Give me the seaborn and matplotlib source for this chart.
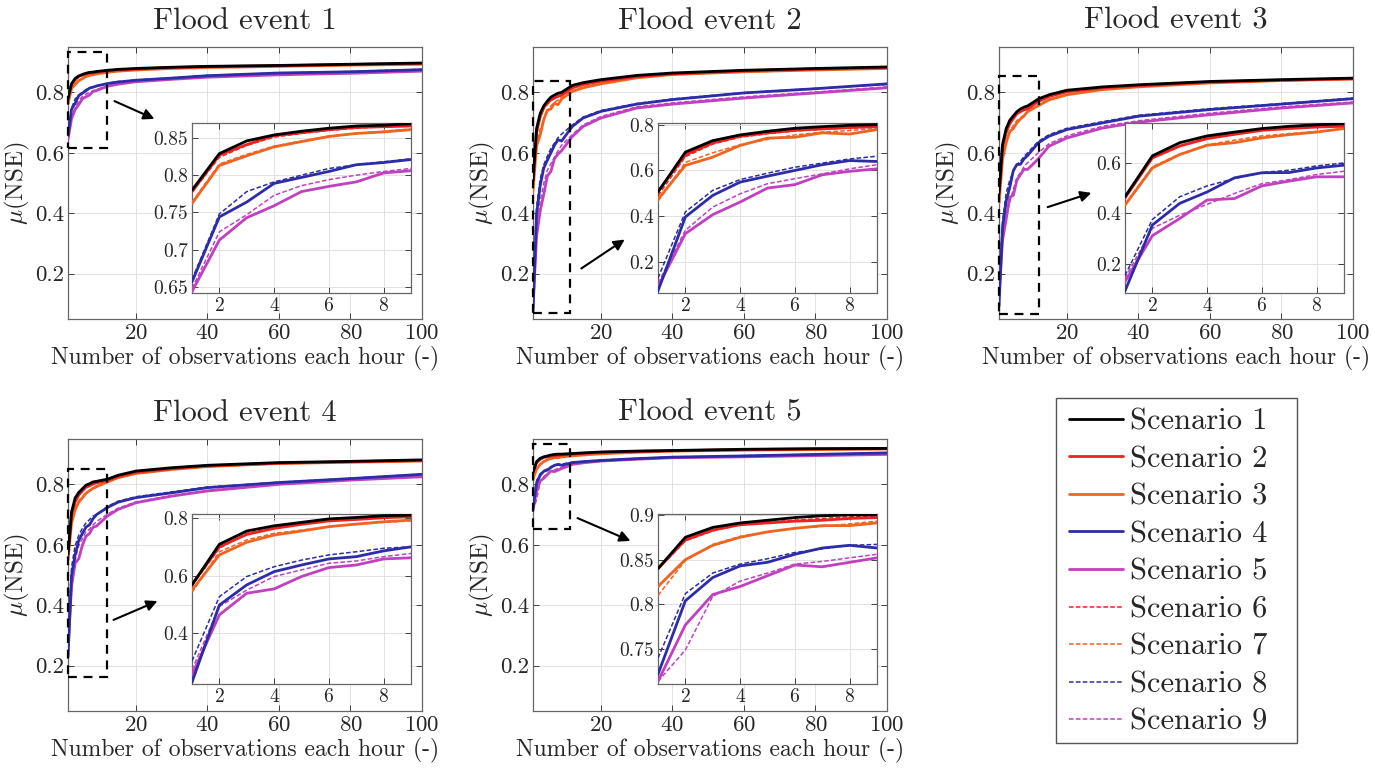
import matplotlib
matplotlib.use("Agg")
import matplotlib.pyplot as plt
import seaborn as sns
import pandas as pd
from matplotlib.patches import Rectangle, FancyArrowPatch
from matplotlib.lines import Line2D
from matplotlib.ticker import FuncFormatter

x_obs = [1, 2, 3, 4, 5, 6, 7, 8, 9, 12, 15, 20, 30, 40, 60, 80, 100]

scenarios = ["Scenario 1", "Scenario 2", "Scenario 3", "Scenario 4", "Scenario 5",
             "Scenario 6", "Scenario 7", "Scenario 8", "Scenario 9"]
colors = ["#000000", "#ee2020", "#f06420", "#2c2ca8", "#c040c0",
          "#ee2020", "#f06420", "#2c2ca8", "#c040c0"]
dashed = [False, False, False, False, False, True, True, True, True]

event_titles = ["Flood event 1", "Flood event 2", "Flood event 3", "Flood event 4", "Flood event 5"]

ev1 = [
    [0.780, 0.829, 0.846, 0.854, 0.859, 0.863, 0.866, 0.867, 0.869, 0.873, 0.876, 0.879, 0.883, 0.886, 0.889, 0.893, 0.897],
    [0.778, 0.827, 0.841, 0.853, 0.857, 0.861, 0.864, 0.865, 0.866, 0.871, 0.874, 0.877, 0.882, 0.885, 0.888, 0.892, 0.896],
    [0.762, 0.813, 0.826, 0.838, 0.845, 0.852, 0.856, 0.858, 0.861, 0.866, 0.870, 0.874, 0.879, 0.882, 0.886, 0.890, 0.893],
    [0.657, 0.744, 0.764, 0.789, 0.797, 0.805, 0.814, 0.817, 0.821, 0.829, 0.834, 0.840, 0.847, 0.855, 0.864, 0.868, 0.875],
    [0.644, 0.713, 0.743, 0.759, 0.778, 0.785, 0.791, 0.803, 0.806, 0.820, 0.827, 0.835, 0.843, 0.850, 0.858, 0.863, 0.870],
    [0.777, 0.824, 0.840, 0.851, 0.856, 0.860, 0.863, 0.865, 0.866, 0.871, 0.874, 0.878, 0.882, 0.885, 0.889, 0.892, 0.896],
    [0.764, 0.815, 0.828, 0.839, 0.846, 0.852, 0.856, 0.859, 0.862, 0.867, 0.871, 0.875, 0.879, 0.883, 0.886, 0.890, 0.894],
    [0.660, 0.748, 0.778, 0.791, 0.800, 0.809, 0.814, 0.818, 0.822, 0.830, 0.836, 0.841, 0.848, 0.856, 0.864, 0.869, 0.876],
    [0.648, 0.724, 0.747, 0.773, 0.786, 0.794, 0.800, 0.805, 0.809, 0.822, 0.829, 0.836, 0.844, 0.851, 0.859, 0.864, 0.871],
]
ev2 = [
    [0.506, 0.680, 0.730, 0.755, 0.771, 0.784, 0.791, 0.797, 0.800, 0.823, 0.832, 0.842, 0.856, 0.864, 0.873, 0.879, 0.884],
    [0.508, 0.668, 0.720, 0.749, 0.764, 0.775, 0.781, 0.787, 0.791, 0.815, 0.826, 0.837, 0.852, 0.861, 0.871, 0.877, 0.882],
    [0.474, 0.622, 0.658, 0.709, 0.741, 0.745, 0.764, 0.759, 0.778, 0.803, 0.815, 0.828, 0.848, 0.859, 0.868, 0.874, 0.879],
    [0.074, 0.397, 0.491, 0.549, 0.575, 0.600, 0.625, 0.643, 0.639, 0.687, 0.715, 0.737, 0.761, 0.776, 0.798, 0.812, 0.828],
    [0.092, 0.324, 0.407, 0.462, 0.523, 0.538, 0.581, 0.596, 0.607, 0.654, 0.687, 0.715, 0.748, 0.761, 0.781, 0.798, 0.815],
    [0.490, 0.660, 0.715, 0.745, 0.760, 0.772, 0.780, 0.785, 0.790, 0.814, 0.825, 0.836, 0.851, 0.860, 0.870, 0.876, 0.881],
    [0.465, 0.635, 0.677, 0.712, 0.735, 0.755, 0.767, 0.774, 0.784, 0.806, 0.818, 0.830, 0.848, 0.858, 0.867, 0.874, 0.879],
    [0.130, 0.419, 0.513, 0.560, 0.588, 0.614, 0.632, 0.650, 0.662, 0.692, 0.718, 0.740, 0.763, 0.778, 0.799, 0.813, 0.826],
    [0.107, 0.339, 0.440, 0.498, 0.542, 0.564, 0.585, 0.607, 0.625, 0.660, 0.692, 0.720, 0.752, 0.765, 0.785, 0.801, 0.818],
]
ev3 = [
    [0.466, 0.628, 0.680, 0.707, 0.722, 0.736, 0.745, 0.751, 0.755, 0.778, 0.792, 0.807, 0.818, 0.825, 0.836, 0.842, 0.847],
    [0.462, 0.620, 0.667, 0.696, 0.713, 0.729, 0.736, 0.742, 0.745, 0.770, 0.786, 0.802, 0.815, 0.822, 0.834, 0.840, 0.845],
    [0.433, 0.580, 0.633, 0.670, 0.680, 0.699, 0.712, 0.722, 0.736, 0.756, 0.775, 0.792, 0.809, 0.818, 0.831, 0.839, 0.844],
    [0.093, 0.354, 0.440, 0.485, 0.541, 0.561, 0.562, 0.580, 0.591, 0.633, 0.655, 0.677, 0.699, 0.721, 0.743, 0.761, 0.779],
    [0.130, 0.312, 0.380, 0.453, 0.459, 0.509, 0.528, 0.545, 0.545, 0.580, 0.622, 0.649, 0.682, 0.701, 0.726, 0.748, 0.765],
    [0.460, 0.618, 0.665, 0.703, 0.716, 0.729, 0.738, 0.745, 0.749, 0.772, 0.788, 0.803, 0.815, 0.823, 0.834, 0.841, 0.845],
    [0.436, 0.585, 0.635, 0.672, 0.690, 0.707, 0.716, 0.725, 0.736, 0.760, 0.778, 0.794, 0.810, 0.819, 0.832, 0.839, 0.844],
    [0.154, 0.376, 0.466, 0.509, 0.538, 0.562, 0.571, 0.588, 0.600, 0.638, 0.660, 0.681, 0.703, 0.724, 0.746, 0.763, 0.781],
    [0.143, 0.341, 0.393, 0.436, 0.479, 0.518, 0.534, 0.554, 0.567, 0.600, 0.630, 0.656, 0.688, 0.706, 0.731, 0.752, 0.768],
]
ev4 = [
    [0.568, 0.709, 0.755, 0.773, 0.785, 0.797, 0.802, 0.808, 0.810, 0.817, 0.830, 0.844, 0.855, 0.863, 0.872, 0.876, 0.881],
    [0.570, 0.700, 0.743, 0.764, 0.778, 0.790, 0.795, 0.801, 0.805, 0.813, 0.826, 0.840, 0.852, 0.861, 0.870, 0.875, 0.879],
    [0.550, 0.672, 0.716, 0.741, 0.755, 0.770, 0.779, 0.787, 0.793, 0.808, 0.822, 0.836, 0.849, 0.859, 0.869, 0.873, 0.877],
    [0.230, 0.498, 0.568, 0.614, 0.637, 0.658, 0.666, 0.686, 0.700, 0.723, 0.741, 0.756, 0.772, 0.789, 0.806, 0.819, 0.833],
    [0.256, 0.464, 0.539, 0.554, 0.597, 0.628, 0.637, 0.658, 0.662, 0.695, 0.717, 0.739, 0.761, 0.778, 0.800, 0.814, 0.825],
    [0.565, 0.695, 0.747, 0.766, 0.782, 0.793, 0.799, 0.802, 0.805, 0.813, 0.826, 0.840, 0.852, 0.861, 0.870, 0.875, 0.879],
    [0.542, 0.683, 0.724, 0.747, 0.758, 0.770, 0.778, 0.785, 0.790, 0.806, 0.821, 0.835, 0.849, 0.858, 0.868, 0.873, 0.877],
    [0.304, 0.527, 0.597, 0.631, 0.654, 0.672, 0.683, 0.695, 0.700, 0.727, 0.744, 0.759, 0.775, 0.791, 0.807, 0.820, 0.834],
    [0.273, 0.493, 0.550, 0.597, 0.620, 0.643, 0.651, 0.666, 0.677, 0.701, 0.721, 0.742, 0.763, 0.780, 0.801, 0.815, 0.826],
]
ev5 = [
    [0.840, 0.875, 0.886, 0.891, 0.894, 0.897, 0.899, 0.900, 0.900, 0.902, 0.904, 0.907, 0.910, 0.912, 0.916, 0.918, 0.919],
    [0.840, 0.872, 0.883, 0.889, 0.891, 0.893, 0.894, 0.896, 0.897, 0.900, 0.903, 0.906, 0.909, 0.911, 0.915, 0.917, 0.918],
    [0.820, 0.850, 0.866, 0.875, 0.881, 0.885, 0.888, 0.888, 0.891, 0.894, 0.897, 0.901, 0.906, 0.910, 0.913, 0.915, 0.917],
    [0.722, 0.804, 0.830, 0.843, 0.847, 0.856, 0.863, 0.866, 0.863, 0.872, 0.875, 0.879, 0.885, 0.890, 0.894, 0.899, 0.904],
    [0.714, 0.777, 0.811, 0.820, 0.832, 0.844, 0.842, 0.847, 0.852, 0.866, 0.871, 0.877, 0.883, 0.888, 0.891, 0.895, 0.899],
    [0.839, 0.871, 0.882, 0.889, 0.892, 0.894, 0.896, 0.898, 0.899, 0.901, 0.903, 0.906, 0.909, 0.911, 0.915, 0.917, 0.918],
    [0.810, 0.849, 0.867, 0.876, 0.881, 0.885, 0.887, 0.890, 0.893, 0.895, 0.898, 0.902, 0.906, 0.910, 0.913, 0.915, 0.917],
    [0.740, 0.812, 0.835, 0.845, 0.851, 0.858, 0.862, 0.866, 0.867, 0.873, 0.876, 0.880, 0.886, 0.890, 0.895, 0.899, 0.904],
    [0.714, 0.749, 0.809, 0.826, 0.835, 0.845, 0.848, 0.852, 0.856, 0.867, 0.872, 0.878, 0.884, 0.888, 0.892, 0.896, 0.900],
]
events = [ev1, ev2, ev3, ev4, ev5]

# inset y ranges and ticks (x range is 1..9 for all)
inset_ylims = [(0.642, 0.87), (0.065, 0.807), (0.085, 0.758), (0.224, 0.814), (0.711, 0.901)]
inset_yticks = [[0.65, 0.7, 0.75, 0.8, 0.85], [0.2, 0.4, 0.6, 0.8], [0.2, 0.4, 0.6],
                [0.4, 0.6, 0.8], [0.75, 0.8, 0.85, 0.9]]
# zoom boxes drawn on the main axes: x0, x1, y0, y1
zoom_boxes = [(1, 11.9, 0.617, 0.935), (1, 11.3, 0.069, 0.837), (1, 12.1, 0.068, 0.853),
              (1, 11.9, 0.162, 0.850), (1, 11.3, 0.651, 0.932)]

W, H = 1375, 772
main_px = [(68, 47), (533, 47), (999, 47), (68, 439), (533, 439)]
main_size = (354, 272)
inset_px = [(192, 123), (658, 123), (1125, 123), (192, 514), (658, 514)]
inset_size = (219, 170)
arrows_px = [((112, 100), (157, 120)), ((579, 270), (627, 238)), ((1045, 208), (1094, 192)),
             ((111, 621), (160, 600)), ((575, 517), (633, 542))]
legend_box_px = (1056, 398, 241, 345)

sns.set_theme(style="ticks")
plt.rcParams["font.family"] = ["cmr10", "DejaVu Serif"]
plt.rcParams["mathtext.fontset"] = "cm"
plt.rcParams["axes.formatter.use_mathtext"] = True
plt.rcParams["axes.unicode_minus"] = False

fmt = FuncFormatter(lambda v, p: "%g" % round(v, 3))
SOLID_LW = 2.0
DASH_LW = 1.1
DASH = (0, (3, 1.5))


def px_rect(left, top, w, h):
    return [left / W, 1 - (top + h) / H, w / W, h / H]


def style_axes(ax, fs):
    ax.tick_params(direction="in", length=4, width=0.6, colors="#262626",
                   labelsize=fs, top=True, right=True, pad=3)
    for s in ax.spines.values():
        s.set_color("#666666")
        s.set_linewidth(0.9)
    ax.grid(True, color="#e2e2e2", linewidth=0.7)
    ax.set_axisbelow(True)


def draw_lines(ax, data, x):
    for i, name in enumerate(scenarios):
        df = pd.DataFrame({"x": x, "y": data[i]})
        sns.lineplot(data=df, x="x", y="y", ax=ax, color=colors[i],
                     linestyle=DASH if dashed[i] else "-",
                     linewidth=DASH_LW if dashed[i] else SOLID_LW,
                     legend=False, zorder=3 + (9 - i) * 0.01)


fig = plt.figure(figsize=(W / 100, H / 100), dpi=100)

for k in range(5):
    ax = fig.add_axes(px_rect(*main_px[k], *main_size))
    draw_lines(ax, events[k], x_obs)
    ax.set_xlim(1, 100)
    ax.set_ylim(0.05, 0.95)
    ax.set_xticks([20, 40, 60, 80, 100])
    ax.set_yticks([0.2, 0.4, 0.6, 0.8])
    ax.yaxis.set_major_formatter(fmt)
    style_axes(ax, 16.5)
    ax.set_title(event_titles[k], fontsize=22, pad=13)
    ax.set_xlabel("Number of observations each hour (-)", fontsize=17, labelpad=2)
    ax.set_ylabel(r"$\mu$(NSE)", fontsize=18, labelpad=2)

    x0, x1, y0, y1 = zoom_boxes[k]
    ax.add_patch(Rectangle((x0, y0), x1 - x0, y1 - y0, fill=False, edgecolor="black",
                           linewidth=1.6, linestyle=(0, (4, 3)), zorder=6, clip_on=False))

    ins = fig.add_axes(px_rect(*inset_px[k], *inset_size))
    ins.set_facecolor("white")
    draw_lines(ins, [row[:9] for row in events[k]], x_obs[:9])
    ins.set_xlim(1, 9)
    ins.set_ylim(*inset_ylims[k])
    ins.set_xticks([2, 4, 6, 8])
    ins.set_yticks(inset_yticks[k])
    ins.yaxis.set_major_formatter(fmt)
    style_axes(ins, 14)
    ins.set_xlabel("")
    ins.set_ylabel("")

    (sx, sy), (ex, ey) = arrows_px[k]
    fig.add_artist(FancyArrowPatch(
        (sx / W, 1 - sy / H), (ex / W, 1 - ey / H), transform=fig.transFigure,
        arrowstyle="-|>", mutation_scale=16, color="black", linewidth=1.5))

# legend panel: frame drawn separately so it can be wider than the entries
lx, ly, lw, lh = legend_box_px
fig.add_artist(Rectangle((lx / W, 1 - (ly + lh) / H), lw / W, lh / H, transform=fig.transFigure,
                         fill=False, edgecolor="#555555", linewidth=1.0))
handles = [Line2D([0], [0], color=colors[i], linewidth=DASH_LW if dashed[i] else SOLID_LW,
                  linestyle=DASH if dashed[i] else "-") for i in range(9)]
fig.legend(handles, scenarios, loc="upper left",
           bbox_to_anchor=((lx + 4) / W, 1 - (ly + 1) / H), fontsize=22, frameon=False,
           handlelength=1.75, handletextpad=0.25, labelspacing=0.33, borderpad=0.3,
           borderaxespad=0)

fig.savefig("out.png", dpi=100, facecolor="white")
